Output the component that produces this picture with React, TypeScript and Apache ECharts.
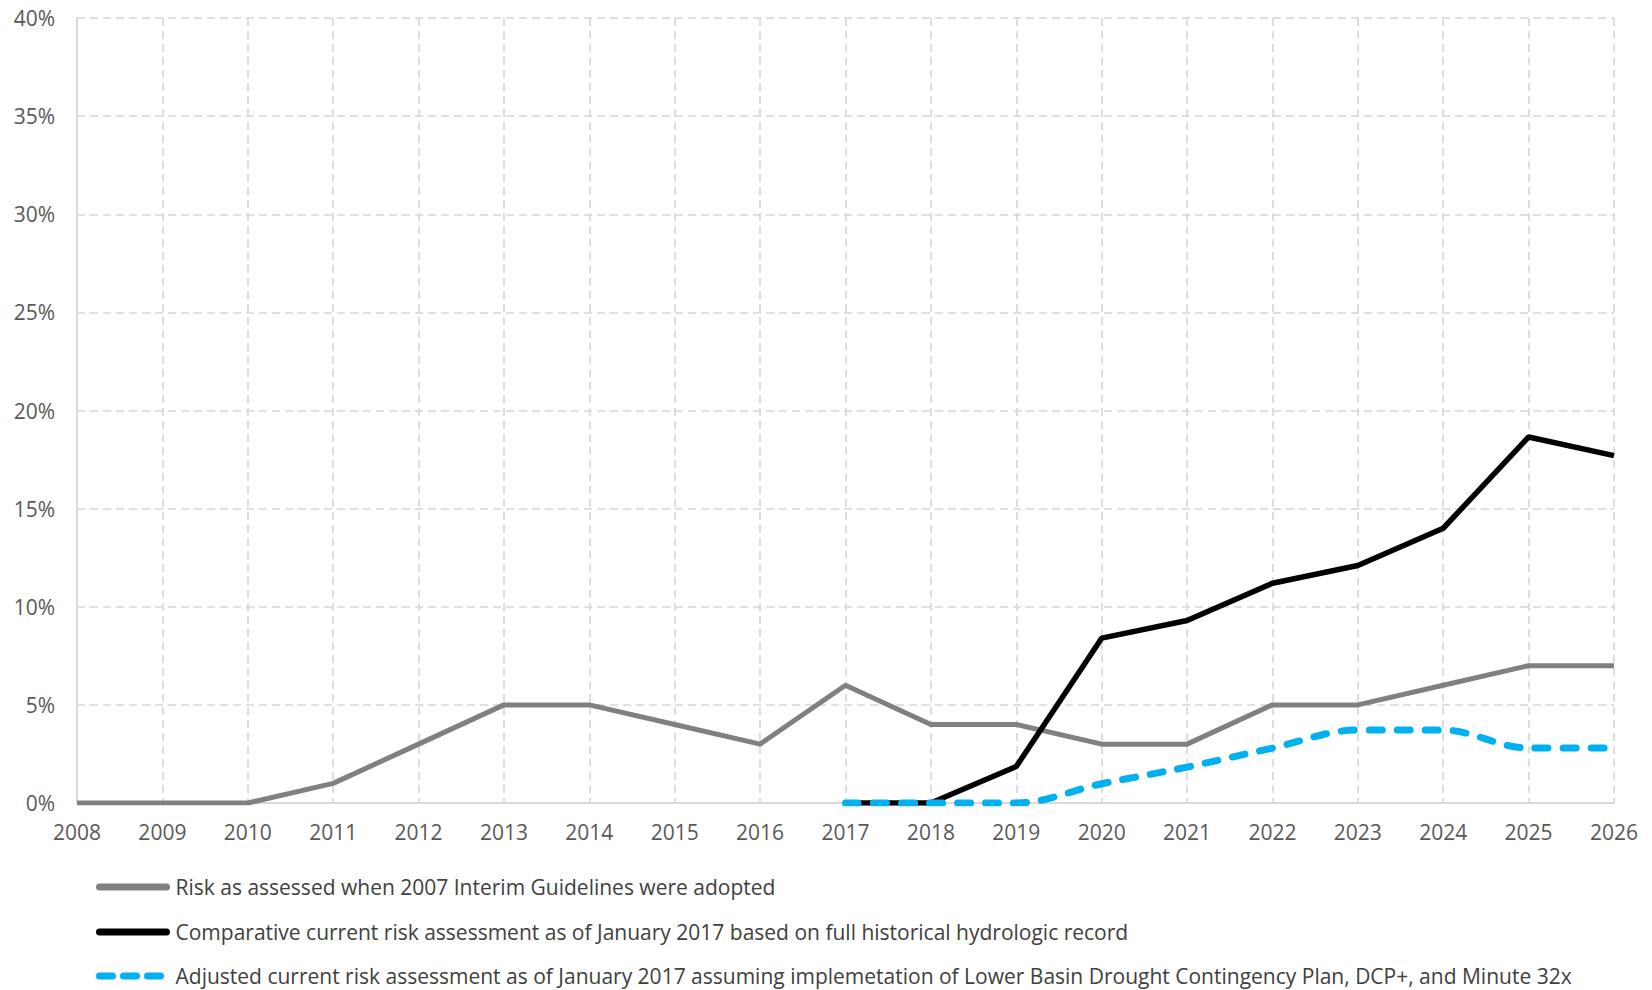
import React, { useEffect, useRef } from "react";
import * as echarts from "echarts";

const years = ["2008","2009","2010","2011","2012","2013","2014","2015","2016","2017","2018","2019","2020","2021","2022","2023","2024","2025","2026"];
const riskAdopted = [0, 0, 0, 1, 3, 5, 5, 4, 3, 6, 4, 4, 3, 3, 5, 5, 6, 7, 7];
const riskCurrent = [null, null, null, null, null, null, null, null, null, 0, 0, 1.86, 8.4, 9.3, 11.2, 12.1, 14.0, 18.65, 17.7];
const riskAdjusted = [null, null, null, null, null, null, null, null, null, 0, 0, 0, 0.98, 1.83, 2.8, 3.72, 3.72, 2.8, 2.8];

const seriesNames = [
  "Risk as assessed when 2007 Interim Guidelines were adopted",
  "Comparative current risk assessment as of January 2017 based on full historical hydrologic record",
  "Adjusted current risk assessment as of January 2017 assuming implemetation of Lower Basin Drought Contingency Plan, DCP+, and Minute 32x",
];

const FONT = "'Open Sans', sans-serif";

function legendRow(name: string, centerY: number, lineType: any, itemWidth: number) {
  return {
    orient: "horizontal",
    left: 96,
    top: centerY - 12,
    padding: 0,
    itemWidth,
    itemHeight: 24,
    data: [name],
    itemStyle: { opacity: 0 },
    lineStyle: { width: 7, cap: "round", type: lineType },
    textStyle: { color: "#404040", fontSize: 21, fontFamily: FONT, lineHeight: 24, padding: [0, 0, 0, 71 - itemWidth] },
  };
}

export default function App() {
  const ref = useRef<HTMLDivElement>(null);
  useEffect(() => {
    if (!ref.current) return;
    const chart = echarts.init(ref.current, undefined, { renderer: "svg" });
    chart.setOption({
      animation: false,
      backgroundColor: "#ffffff",
      grid: { left: 77, right: 38, top: 18, bottom: 187, containLabel: false },
      xAxis: {
        type: "category",
        data: years,
        boundaryGap: false,
        axisLine: { show: true, lineStyle: { color: "#d9d9d9", width: 2 } },
        axisTick: { show: false },
        axisLabel: { color: "#595959", fontSize: 21, fontFamily: FONT, margin: 18 },
        splitLine: { show: true, lineStyle: { color: "#d6d6d6", width: 1.6, type: [8, 5] } },
      },
      yAxis: {
        type: "value",
        min: 0,
        max: 40,
        interval: 5,
        axisLine: { show: true, lineStyle: { color: "#d9d9d9", width: 2 } },
        axisTick: { show: false },
        axisLabel: { color: "#595959", fontSize: 21, fontFamily: FONT, margin: 22, formatter: "{value}%" },
        splitLine: { show: true, lineStyle: { color: "#d6d6d6", width: 1.6, type: [8, 5] } },
      },
      legend: [
        legendRow(seriesNames[0], 887, "solid", 67),
        legendRow(seriesNames[1], 932, "solid", 67),
        legendRow(seriesNames[2], 976, [13, 11], 61),
      ],
      series: [
        {
          name: seriesNames[0],
          type: "line",
          data: riskAdopted,
          symbol: "none",
          lineStyle: { color: "#808080", width: 5 },
          itemStyle: { color: "#808080" },
          z: 2,
        },
        {
          name: seriesNames[1],
          type: "line",
          data: riskCurrent,
          symbol: "none",
          lineStyle: { color: "#000000", width: 5.5 },
          itemStyle: { color: "#000000" },
          z: 3,
        },
        {
          name: seriesNames[2],
          type: "line",
          data: riskAdjusted,
          symbol: "none",
          smooth: 0.35,
          lineStyle: { color: "#00b0f0", width: 7, type: [13, 15], cap: "round" },
          itemStyle: { color: "#00b0f0" },
          z: 4,
        },
      ],
    });
    return () => chart.dispose();
  }, []);
  return <div ref={ref} style={{ position: "absolute", left: 0, top: 0, width: 1652, height: 990 }} />;
}
